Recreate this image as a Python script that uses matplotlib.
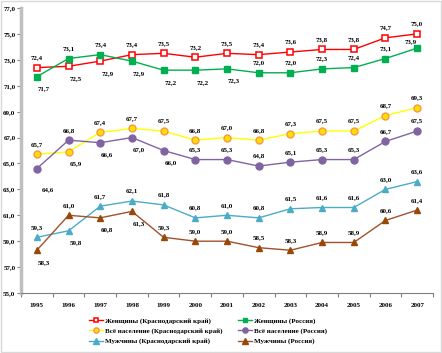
import numpy as np
import matplotlib
matplotlib.use('Agg')
import matplotlib.pyplot as plt
from matplotlib.patches import Rectangle

plt.rcParams['font.family'] = ['Liberation Serif', 'DejaVu Serif']
plt.rcParams['font.weight'] = 'bold'

# данные
years = ['1995', '1996', '1997', '1998', '1999', '2000', '2001',
         '2002', '2003', '2004', '2005', '2006', '2007']
women_kk = [72.4, 72.5, 72.9, 73.4, 73.5, 73.2, 73.5, 73.4, 73.6, 73.8, 73.8, 74.7, 75.0]
women_ru = [71.7, 73.1, 73.4, 72.9, 72.2, 72.2, 72.3, 72.0, 72.0, 72.3, 72.4, 73.1, 73.9]
total_kk = [65.7, 65.9, 67.4, 67.7, 67.5, 66.8, 67.0, 66.8, 67.3, 67.5, 67.5, 68.7, 69.3]
total_ru = [64.6, 66.8, 66.6, 67.0, 66.0, 65.3, 65.3, 64.8, 65.1, 65.3, 65.3, 66.7, 67.5]
men_kk = [59.3, 59.8, 61.7, 62.1, 61.8, 60.8, 61.0, 60.8, 61.5, 61.6, 61.6, 63.0, 63.6]
men_ru = [58.3, 61.0, 60.8, 61.3, 59.3, 59.0, 59.0, 58.5, 58.3, 58.9, 58.9, 60.6, 61.4]

# расположение подписей: a - сверху, l - сверху слева, b - снизу, B - ниже
pos_women_kk = 'abbaaaaaaaaaa'
pos_women_ru = 'baabbbbaaaaal'
pos_total_kk = 'abaaaaaaaaaaa'
pos_total_ru = 'Babbbaaaaaaaa'
pos_men_kk = 'abaaaaaaaaaaa'
pos_men_ru = 'babbaaaaaaaaa'

fig = plt.figure(figsize=(4.42, 3.53), dpi=100)
ax = fig.add_axes([21 / 442, 1 - 293 / 353, 412 / 442, 285 / 353])
x = np.arange(len(years))

series = [
    (women_kk, pos_women_kk, 'Женщины (Краснодарский край)',
     dict(color='#FF0000', marker='s', mfc='white', mec='#FF0000', ms=4.5, mew=1.1)),
    (total_kk, pos_total_kk, 'Всё население (Краснодарский край)',
     dict(color='#FFFF00', marker='o', mfc='#FFE000', mec='#F79646', ms=5, mew=1.0)),
    (men_kk, pos_men_kk, 'Мужчины (Краснодарский край)',
     dict(color='#4BACC6', marker='^', mfc='#4BACC6', mec='#4BACC6', ms=5)),
    (women_ru, pos_women_ru, 'Женщины (Россия)',
     dict(color='#00B050', marker='s', mfc='#00B050', mec='#00B050', ms=4.5)),
    (total_ru, pos_total_ru, 'Всё население (Россия)',
     dict(color='#8064A2', marker='o', mfc='#8064A2', mec='#8064A2', ms=5)),
    (men_ru, pos_men_ru, 'Мужчины (Россия)',
     dict(color='#A0522D', marker='^', mfc='#984807', mec='#984807', ms=5)),
]

offsets = {'a': (0, 10), 'l': (-6, 7), 'b': (7, -12), 'B': (11, -21)}
handles = []
for vals, place, name, st in series:
    h, = ax.plot(x, vals, lw=1.0, label=name, **st)
    handles.append(h)
    for xi, v, p in zip(x, vals, place):
        dx, dy = offsets[p]
        ax.annotate(f'{v:.1f}'.replace('.', ','), (xi, v), xytext=(dx, dy),
                    textcoords='offset pixels', ha='center', va='center',
                    fontsize=5, fontweight='bold')

ax.set_xlim(-0.5, 12.5)
ax.set_ylim(55, 77)
ax.set_yticks(np.arange(55, 77.1, 2))
ax.set_yticklabels([f'{t:.1f}'.replace('.', ',') for t in np.arange(55, 77.1, 2)],
                   fontsize=5, fontweight='bold')
ax.set_xticks(x)
ax.set_xticklabels(years, fontsize=5, fontweight='bold')
ax.set_xticks(np.arange(-0.5, 12.6, 1), minor=True)
ax.tick_params(axis='x', which='major', length=0, pad=7)
ax.tick_params(axis='x', which='minor', length=3, color='#808080', width=0.8)
ax.tick_params(axis='y', length=3, color='#808080', width=0.8, pad=1)

for s in ['top', 'right']:
    ax.spines[s].set_visible(False)
ax.spines['left'].set_color('#BFBFBF')
ax.spines['left'].set_linewidth(2.5)
ax.spines['bottom'].set_color('#808080')
ax.spines['bottom'].set_linewidth(0.8)

fig.legend(handles=handles, loc='upper left', bbox_to_anchor=(86 / 442, 1 - 314 / 353),
           ncol=2, frameon=False, prop={'weight': 'bold', 'size': 5},
           handlelength=2.0, handletextpad=0.3, columnspacing=2.2, labelspacing=0.6,
           borderpad=0, markerscale=0.75)

fig.add_artist(Rectangle((0.002, 0.003), 0.995, 0.994, transform=fig.transFigure,
                         fill=False, edgecolor='#D9D9D9', lw=1.0))

fig.savefig('out.png', dpi=100)
